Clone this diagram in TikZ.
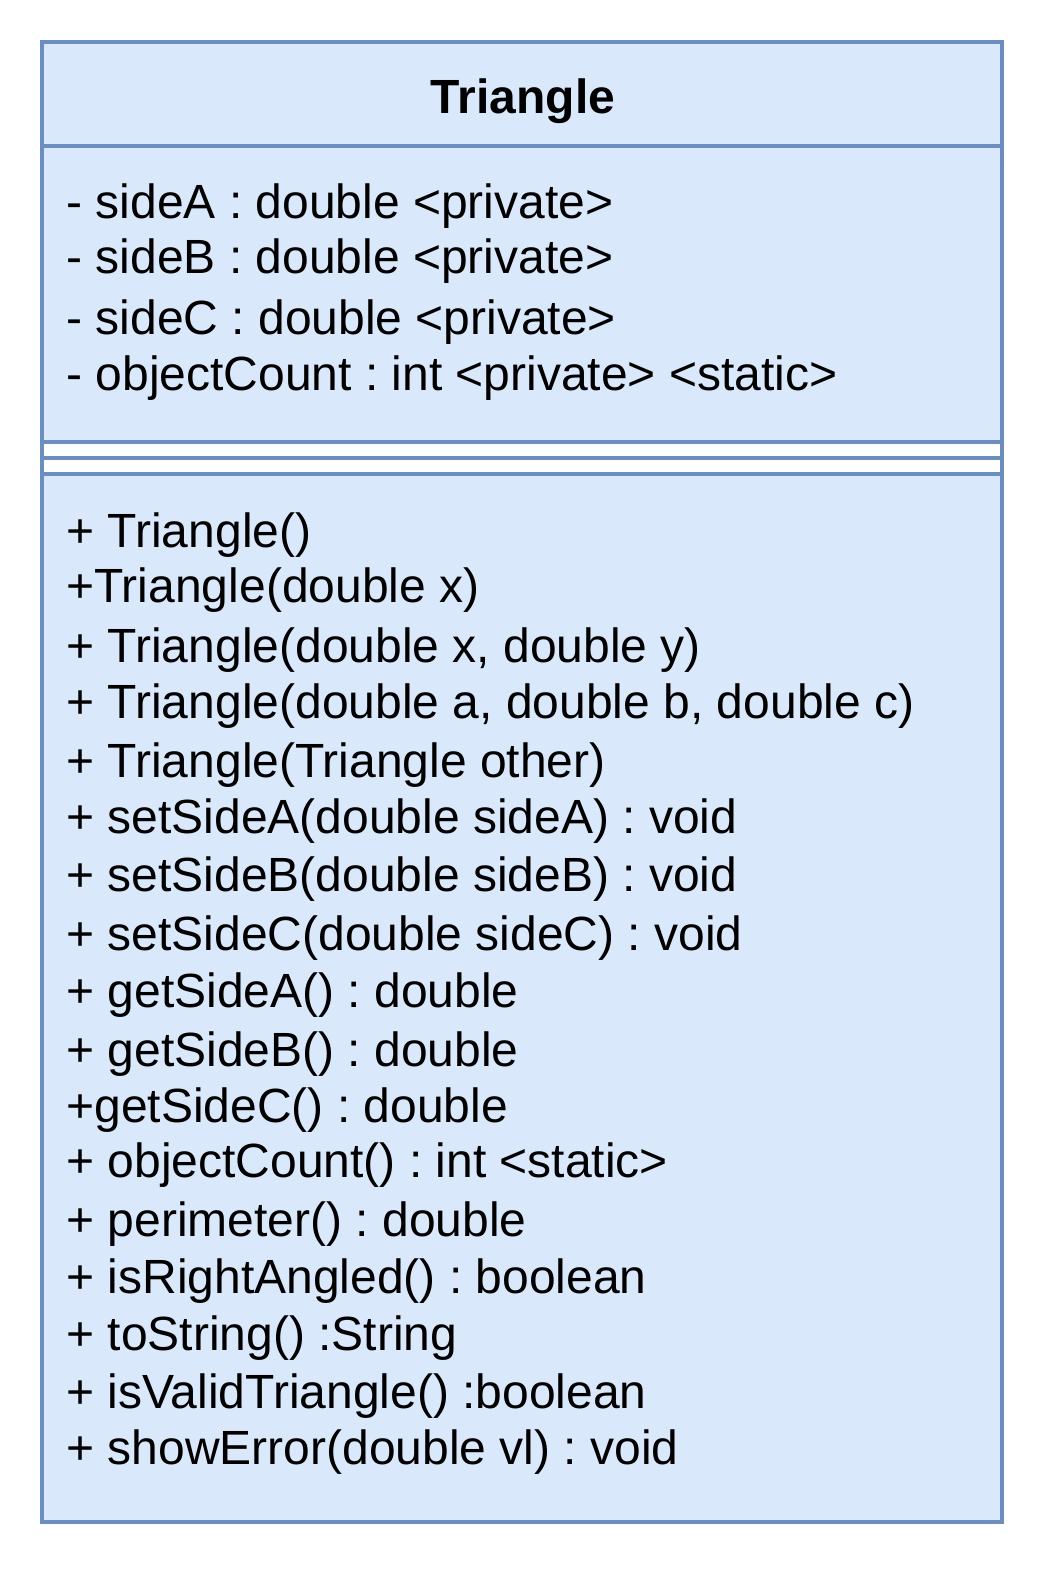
\documentclass[tikz,border=0pt]{standalone}
\usepackage{fontspec}
\setmainfont{Liberation Sans}
\usepackage{xcolor}
\usepackage{tikz}
\frenchspacing
\definecolor{classbg}{HTML}{DAE8FC}
\definecolor{classline}{HTML}{6C8EBF}
\definecolor{ink}{HTML}{000000}
\tikzset{
  frame/.style={draw=classline, line width=2pt},
  member/.style={
    anchor=base west,
    inner sep=0pt,
    text=ink,
    font=\fontsize{24}{28}\selectfont
  },
  classname/.style={
    anchor=base,
    inner sep=0pt,
    text=ink,
    font=\fontsize{24}{28}\selectfont\bfseries
  }
}

\begin{document}
\begin{tikzpicture}[x=0.5pt,y=-0.5pt]
  \useasboundingbox (0,0) rectangle (1048,1576);

  % class box
  \fill[classbg] (42,42) rectangle (1002,1522);
  \fill[white] (42,442) rectangle (1002,474);
  \foreach \y in {146,442,458,474}{
    \draw[frame] (42,\y) -- (1002,\y);
  }
  \draw[frame] (42,42) rectangle (1002,1522);

  \node[classname] (title) at (523,113) {Triangle};

  % attributes
  \foreach \y/\t [count=\i] in {
      218/{- sideA : double <private>},
      273/{- sideB : double <private>},
      334/{- sideC : double <private>},
      390/{- objectCount : int <private> <static>}}{
    \node[member] (attr\i) at (66,\y) {\t};
  }

  % operations
  \foreach \y/\t [count=\i] in {
      547/{+ Triangle()},
      602/{+Triangle(double x)},
      662/{+ Triangle(double x, double y)},
      718/{+ Triangle(double a, double b, double c)},
      777/{+ Triangle(Triangle other)},
      833/{+ setSideA(double sideA) : void},
      891/{+ setSideB(double sideB) : void},
      950/{+ setSideC(double sideC) : void},
      1007/{+ getSideA() : double},
      1066/{+ getSideB() : double},
      1122/{+getSideC() : double},
      1177/{+ objectCount() : int <static>},
      1236/{+ perimeter() : double},
      1293/{+ isRightAngled() : boolean},
      1350/{+ toString() :String},
      1408/{+ isValidTriangle() :boolean},
      1464/{+ showError(double vl) : void}}{
    \node[member] (op\i) at (66,\y) {\t};
  }
\end{tikzpicture}
\end{document}
